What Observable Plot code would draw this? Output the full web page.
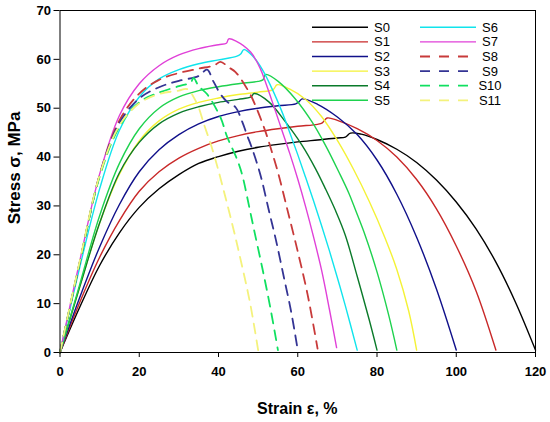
<!DOCTYPE html>
<html><head><meta charset="utf-8">
<script src="https://cdn.jsdelivr.net/npm/d3@7"></script>
<script src="https://cdn.jsdelivr.net/npm/@observablehq/plot@0.6"></script>
<style>
body{margin:0;background:#fff}
#chart{width:550px;height:422px}
</style>
</head><body><div id="chart"></div>
<script>
const seriesNames = ["S0","S1","S2","S3","S4","S5","S6","S7","S8","S9","S10","S11"];
const seriesColors = ["#000000","#c82828","#10108a","#f4f236","#0a7a2a","#1ed24e","#10e4ec","#e040d8","#c83a3a","#343494","#10e060","#f4f27c"];
const seriesDashed = [false,false,false,false,false,false,false,false,true,true,true,true];
const xTicks = [0,20,40,60,80,100,120];
const yTicks = [0,10,20,30,40,50,60,70];

// [strain %, stress MPa]
const s0 = [[0,0],[5,9.3],[10,17.8],[15,24.5],[20,29.7],[25,33.5],[30,36.4],[35,38.7],[40,40.1],[45,41.2],[50,42.0],[55,42.6],[60,43.1],[65,43.5],[70,43.9],[72,44.1],[73.3,44.9],[76,44.7],[80,43.6],[85,41.6],[90,38.9],[95,35.3],[100,30.8],[105,25.3],[110,18.5],[115,10.2],[120,0.5]];
const s1 = [[0,0],[5,10.3],[10,19.5],[15,27.0],[20,33.0],[25,37.0],[30,39.8],[35,41.8],[40,43.3],[45,44.4],[50,45.2],[55,45.8],[60,46.3],[65,46.7],[66.2,47.0],[67.4,48.0],[70,47.5],[75,45.8],[80,43.4],[85,40.0],[90,35.4],[95,29.4],[100,21.8],[105,12.6],[110,0.5]];
const s2 = [[0,0],[5,11.3],[10,21.6],[15,30.3],[20,37.0],[25,41.5],[30,44.6],[35,46.8],[40,48.3],[45,49.3],[50,50.0],[55,50.5],[59.5,50.9],[60.3,51.3],[61.1,51.9],[65,50.8],[70,48.2],[75,44.6],[80,39.4],[85,32.4],[90,23.6],[95,13],[100,0.5]];
const s3 = [[0,0],[5,13.5],[10,26.5],[15,36.5],[20,43.3],[25,47.4],[30,49.8],[35,51.2],[40,52.1],[45,52.8],[50,53.3],[53.8,53.8],[54.8,54.8],[58,53.9],[62,51.8],[66,48.3],[70,43.4],[74,37.6],[78,31],[82,23.5],[85,17],[88,8.5],[90,0.5]];
const s4 = [[0,0],[5,13.5],[10,26.5],[15,36.8],[20,43.0],[25,46.8],[30,49.0],[35,50.3],[40,51.2],[45,51.8],[48.2,52.3],[49,53],[52.7,51.3],[56.9,47.2],[61.1,42.4],[64.5,37.6],[67,33.5],[69.5,29.1],[72,24],[75,15.6],[78,6.8],[80,0.5]];
const s5 = [[0,0],[5,14],[10,28],[15,38.7],[20,45.8],[25,50.0],[30,52.3],[35,53.6],[40,54.4],[45,55.0],[50,55.5],[51.2,55.8],[51.9,56.9],[55.2,55.4],[59.4,51.9],[63.6,47.2],[67,42.4],[70.4,36.9],[72.9,32.6],[74.6,29.1],[77,24],[80,16.5],[83,7.5],[85,0.5]];
const s6 = [[0,0],[5,17.5],[10,33.5],[15,45.5],[20,52.3],[25,56.0],[30,57.9],[35,59.1],[40,59.9],[44.5,60.6],[45.6,61.1],[46.4,62],[48.5,60.8],[51,58.0],[53.5,54.0],[56,49.3],[58,45.0],[60,40.5],[62,35.8],[64,31.0],[66,26.0],[68,20.8],[70,15.3],[72,9.6],[75,0.5]];
const s7 = [[0,0],[5,18.8],[10,36.5],[15,48.5],[20,55.0],[25,58.7],[30,60.9],[35,62.2],[40,63.0],[42,63.3],[42.6,64.2],[44.3,63.8],[48.1,61.5],[50.6,58],[52,55],[54,50.3],[56,45.5],[58,40.7],[60,35.5],[62,29.8],[64,23.6],[66,16.9],[68,8.8],[69.8,1]];
const s8 = [[0,0],[5,18.5],[10,36.3],[15,47.5],[20,53.0],[25,55.8],[30,57.2],[35,58.1],[39,58.8],[40.5,59.5],[42.5,58.4],[44.3,57.4],[47.7,53.3],[49.3,50.6],[51.9,45.1],[53.5,41],[55.2,36.3],[57.3,29.5],[59.9,21.0],[62.5,11.8],[65,0.8]];
const s9 = [[0,0],[5,18.5],[10,36.3],[15,47.0],[20,52.0],[25,54.3],[30,55.6],[35,56.6],[37.1,57.9],[38.7,55.5],[40.5,52.9],[42.2,51.3],[44.3,50.2],[46,47.2],[47.2,44.5],[48.5,41.7],[50.6,36.3],[52.7,29.1],[54.5,23],[56.5,15.4],[58.3,8.5],[60,0.5]];
const s10 = [[0,0],[5,18.5],[10,36],[15,46.2],[20,51.2],[25,53.2],[30,54.5],[33,55.3],[33.7,56.2],[35,54.5],[37.1,52.9],[40.5,48.1],[42.2,44.1],[44.7,39.5],[46,36.3],[47.7,30],[49,25],[51,17.5],[53,9.5],[55,0.5]];
const s11 = [[0,0],[5,18.8],[10,36.3],[15,46.5],[20,51.0],[25,52.9],[30,53.6],[32.1,53.9],[34.6,50.9],[36.3,46.8],[38.3,42],[40,37.2],[41.2,33.5],[42,31],[44,24.5],[46,17.5],[48,10],[50,0.5]];
const seriesPoints = [s0,s1,s2,s3,s4,s5,s6,s7,s8,s9,s10,s11];

const rows = seriesNames.flatMap((name, i) =>
  seriesPoints[i].map(([strain, stress]) => ({series: name, strain, stress})));

const font = "'Liberation Sans', Arial, sans-serif";
const ML = 59.5, MR = 15, MT = 10, MB = 70, W = 550, H = 422;

const lineMarks = seriesNames.map((name, i) =>
  Plot.line(rows.filter(d => d.series === name), {
    x: "strain", y: "stress",
    stroke: seriesColors[i],
    strokeWidth: seriesDashed[i] ? 1.8 : 1.4,
    strokeDasharray: seriesDashed[i] ? "10,7" : null,
    curve: "catmull-rom"
  }));

const chart = Plot.plot({
  width: W, height: H,
  marginLeft: ML, marginRight: MR, marginTop: MT, marginBottom: MB,
  style: {fontFamily: font, fontSize: "13px", fontWeight: "bold", background: "#fff", color: "#000"},
  x: {domain: [0, 120]},
  y: {domain: [0, 70]},
  marks: [
    ...lineMarks,
    Plot.frame({stroke: "#000", strokeWidth: 1}),
    Plot.axisX({ticks: xTicks, tickSize: 5, tickPadding: 9, label: null, tickFormat: d => d}),
    Plot.axisY({ticks: yTicks, tickSize: 6, tickPadding: 3, label: null, tickFormat: d => d})
  ]
});
document.getElementById("chart").appendChild(chart);

const svg = d3.select(chart);
svg.append("text")
  .attr("x", (ML + W - MR) / 2).attr("y", 408)
  .attr("text-anchor", "middle").attr("dy", "0.35em")
  .style("font-family", font).style("font-size", "16px").style("font-weight", "bold")
  .text("Strain ε, %");
svg.append("text")
  .attr("transform", "translate(14,168) rotate(-90)")
  .attr("text-anchor", "middle").attr("dy", "0.35em")
  .style("font-family", font).style("font-size", "17px").style("font-weight", "bold")
  .text("Stress σ, MPa");

const leg = svg.append("g").style("font-family", font).style("font-size", "13px").style("font-weight", "normal");
seriesNames.forEach((name, i) => {
  const col = Math.floor(i / 6), row = i % 6;
  const x0 = col === 0 ? 312 : 420;
  const y0 = 27.3 + row * 14.6;
  leg.append("line")
    .attr("x1", x0).attr("x2", x0 + 56).attr("y1", y0).attr("y2", y0)
    .attr("stroke", seriesColors[i])
    .attr("stroke-width", seriesDashed[i] ? 1.8 : 1.4)
    .attr("stroke-dasharray", seriesDashed[i] ? "10,9" : null);
  leg.append("text")
    .attr("x", x0 + 70).attr("y", y0).attr("dy", "0.35em")
    .attr("fill", "#000")
    .text(name);
});
</script>
</body></html>
